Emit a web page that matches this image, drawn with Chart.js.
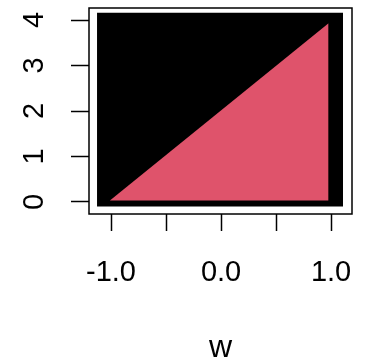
<!DOCTYPE html>
<html>
<head>
<meta charset="utf-8">
<script src="https://cdn.jsdelivr.net/npm/chart.js@4/dist/chart.umd.min.js"></script>
<style>
html,body{margin:0;padding:0;background:#fff;}
#wrap{width:365px;height:362px;position:relative;}
</style>
</head>
<body>
<div id="wrap"><canvas id="c" width="365" height="362"></canvas></div>
<script>
// ---- data ----
const xTicks = [-1, -0.5, 0, 0.5, 1];
const xTickLabels = ['-1.0', '', '0.0', '', '1.0'];
const yTicks = [0, 1, 2, 3, 4];
const yTickLabels = ['0', '1', '2', '3', '4'];
const xTitle = 'w';
// black region (dense black points), drawn as top edge filled down to bottom value
const blackW = [-1.127, 1.109];
const blackTop = [4.16, 4.16];
const blackBottom = -0.10;
// red region (triangle) top edge, filled down to bottom value
const redW = [-1.01, 0.977];
const redTop = [0.03, 3.93];
const redBottom = 0.03;

const FONT = "'Liberation Sans', Arial, sans-serif";

const boxAndYLabels = {
  id: 'boxAndYLabels',
  afterDraw(chart) {
    const {ctx, chartArea: a} = chart;
    const ys = chart.scales.y;
    ctx.save();
    ctx.strokeStyle = '#000';
    ctx.lineWidth = 1.5;
    ctx.strokeRect(a.left, a.top, a.right - a.left, a.bottom - a.top);
    ctx.fillStyle = '#000';
    ctx.font = '29px ' + FONT;
    ctx.textAlign = 'center';
    ctx.textBaseline = 'alphabetic';
    yTicks.forEach((v, i) => {
      const py = ys.getPixelForValue(v);
      ctx.save();
      ctx.translate(43, py);
      ctx.rotate(-Math.PI / 2);
      ctx.fillText(yTickLabels[i], 0, 0);
      ctx.restore();
    });
    ctx.restore();
  }
};

new Chart(document.getElementById('c'), {
  type: 'scatter',
  data: {
    datasets: [
      {
        data: redW.map((w, i) => ({x: w, y: redTop[i]})),
        showLine: true,
        borderWidth: 0,
        borderColor: 'rgba(0,0,0,0)',
        backgroundColor: '#DF536B',
        pointRadius: 0,
        fill: {value: redBottom}
      },
      {
        data: blackW.map((w, i) => ({x: w, y: blackTop[i]})),
        showLine: true,
        borderWidth: 0,
        borderColor: 'rgba(0,0,0,0)',
        backgroundColor: '#000000',
        pointRadius: 0,
        fill: {value: blackBottom}
      }
    ]
  },
  options: {
    responsive: false,
    animation: false,
    devicePixelRatio: 1,
    layout: {padding: {left: 0, right: 13, top: 8, bottom: 0}},
    plugins: {legend: {display: false}, tooltip: {enabled: false}},
    scales: {
      x: {
        type: 'linear',
        min: -1.2,
        max: 1.19,
        afterBuildTicks: s => { s.ticks = xTicks.map(v => ({value: v})); },
        afterFit: s => { s.height = 148; s.paddingLeft = 0; s.paddingRight = 0; },
        border: {display: false},
        grid: {drawOnChartArea: false, drawTicks: true, tickLength: 17, tickColor: '#000', tickWidth: 1.5},
        ticks: {
          autoSkip: false, maxRotation: 0, minRotation: 0, padding: 25,
          color: '#000', font: {family: FONT, size: 29},
          callback: (v, i) => xTickLabels[i]
        },
        title: {display: true, text: xTitle, color: '#000', font: {family: FONT, size: 32, lineHeight: 0.85}, padding: 0}
      },
      y: {
        type: 'linear',
        min: -0.264,
        max: 4.264,
        afterBuildTicks: s => { s.ticks = yTicks.map(v => ({value: v})); },
        afterFit: s => { s.width = 89; s.paddingTop = 0; s.paddingBottom = 0; },
        border: {display: false},
        grid: {drawOnChartArea: false, drawTicks: true, tickLength: 18, tickColor: '#000', tickWidth: 1.5},
        ticks: {display: false}
      }
    }
  },
  plugins: [boxAndYLabels]
});
</script>
</body>
</html>
